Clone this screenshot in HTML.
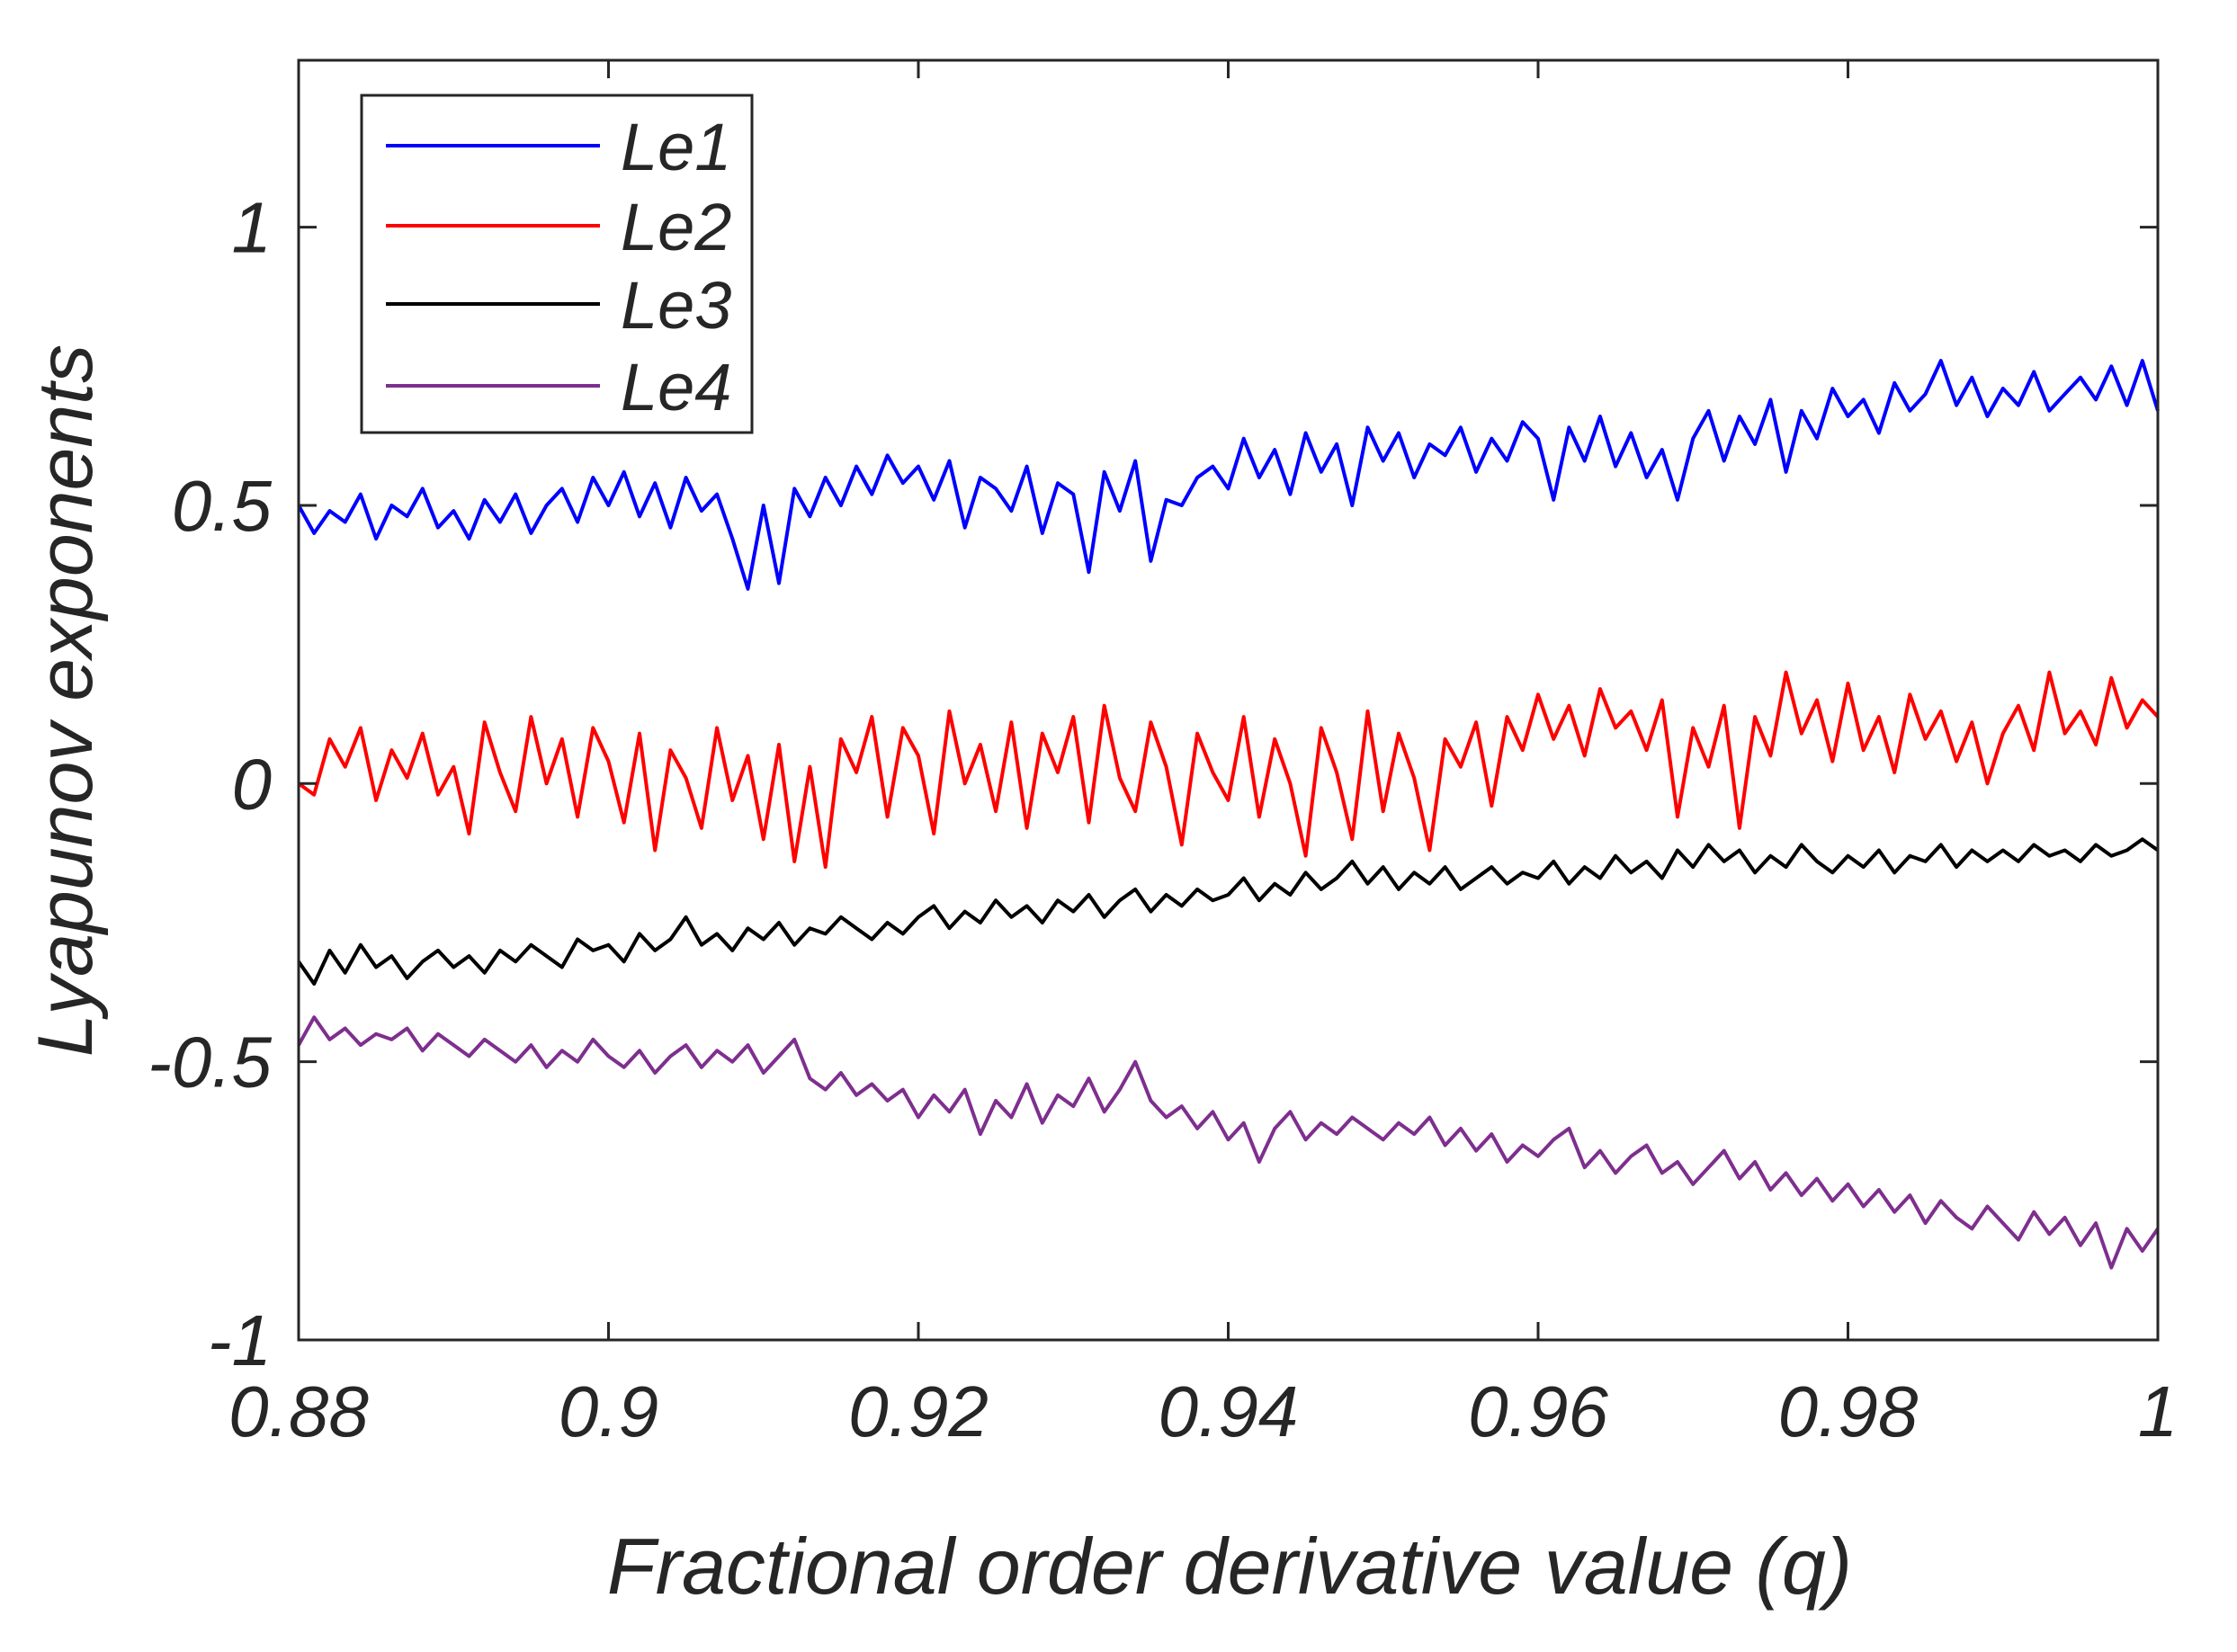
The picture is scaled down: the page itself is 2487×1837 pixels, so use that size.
<!DOCTYPE html>
<html><head><meta charset="utf-8">
<style>
html,body{margin:0;padding:0;background:#fff;}
svg{display:block;}
text{font-family:"Liberation Sans",sans-serif;font-style:italic;fill:#262626;}
</style></head>
<body>
<svg id="chart" width="2487" height="1837" viewBox="0 0 2487 1837" xmlns="http://www.w3.org/2000/svg">
<rect width="2487" height="1837" fill="#fff"/>
<g id="series"></g>
<g id="axes"></g>
<text x="1367" y="1772" font-size="88" text-anchor="middle">Fractional order derivative value (q)</text>
<text transform="translate(102,779) rotate(-90)" font-size="86" text-anchor="middle">Lyapunov exponents</text>
<g>
<rect x="402" y="106" width="434" height="375" fill="#fff" stroke="#262626" stroke-width="3"/>
<line x1="429" y1="162" x2="667" y2="162" stroke="#0000ff" stroke-width="4"/>
<text x="690" y="189" font-size="74" fill="#000">Le1</text>
<line x1="429" y1="251" x2="667" y2="251" stroke="#ff0000" stroke-width="4"/>
<text x="690" y="278" font-size="74" fill="#000">Le2</text>
<line x1="429" y1="338" x2="667" y2="338" stroke="#000" stroke-width="4"/>
<text x="690" y="365" font-size="74" fill="#000">Le3</text>
<line x1="429" y1="429" x2="667" y2="429" stroke="#7e2f8e" stroke-width="4"/>
<text x="690" y="456" font-size="74" fill="#000">Le4</text>
</g>
</svg>
<script>
const xStart = 0.88;
const xStep = 0.001;
const xTicks = [0.88, 0.9, 0.92, 0.94, 0.96, 0.98, 1];
const xTickLabels = ["0.88", "0.9", "0.92", "0.94", "0.96", "0.98", "1"];
const yTicks = [-1, -0.5, 0, 0.5, 1];
const yTickLabels = ["-1", "-0.5", "0", "0.5", "1"];
const le1 = [0.50,0.45,0.49,0.47,0.52,0.44,0.50,0.48,0.53,0.46,
0.49,0.44,0.51,0.47,0.52,0.45,0.50,0.53,0.47,0.55,
0.50,0.56,0.48,0.54,0.46,0.55,0.49,0.52,0.44,0.35,
0.50,0.36,0.53,0.48,0.55,0.50,0.57,0.52,0.59,0.54,
0.57,0.51,0.58,0.46,0.55,0.53,0.49,0.57,0.45,0.54,
0.52,0.38,0.56,0.49,0.58,0.40,0.51,0.50,0.55,0.57,
0.53,0.62,0.55,0.60,0.52,0.63,0.56,0.61,0.50,0.64,
0.58,0.63,0.55,0.61,0.59,0.64,0.56,0.62,0.58,0.65,
0.62,0.51,0.64,0.58,0.66,0.57,0.63,0.55,0.60,0.51,
0.62,0.67,0.58,0.66,0.61,0.69,0.56,0.67,0.62,0.71,
0.66,0.69,0.63,0.72,0.67,0.70,0.76,0.68,0.73,0.66,
0.71,0.68,0.74,0.67,0.70,0.73,0.69,0.75,0.68,0.76,
0.67];
const le2 = [0.00,-0.02,0.08,0.03,0.10,-0.03,0.06,0.01,0.09,-0.02,
0.03,-0.09,0.11,0.02,-0.05,0.12,0.00,0.08,-0.06,0.10,
0.04,-0.07,0.09,-0.12,0.06,0.01,-0.08,0.10,-0.03,0.05,
-0.10,0.07,-0.14,0.03,-0.15,0.08,0.02,0.12,-0.06,0.10,
0.05,-0.09,0.13,0.00,0.07,-0.05,0.11,-0.08,0.09,0.02,
0.12,-0.07,0.14,0.01,-0.05,0.11,0.03,-0.11,0.09,0.02,
-0.03,0.12,-0.06,0.08,0.00,-0.13,0.10,0.02,-0.10,0.13,
-0.05,0.09,0.01,-0.12,0.08,0.03,0.11,-0.04,0.12,0.06,
0.16,0.08,0.14,0.05,0.17,0.10,0.13,0.06,0.15,-0.06,
0.10,0.03,0.14,-0.08,0.12,0.05,0.20,0.09,0.15,0.04,
0.18,0.06,0.12,0.02,0.16,0.08,0.13,0.04,0.11,0.00,
0.09,0.14,0.06,0.20,0.09,0.13,0.07,0.19,0.10,0.15,
0.12];
const le3 = [-0.32,-0.36,-0.30,-0.34,-0.29,-0.33,-0.31,-0.35,-0.32,-0.30,
-0.33,-0.31,-0.34,-0.30,-0.32,-0.29,-0.31,-0.33,-0.28,-0.30,
-0.29,-0.32,-0.27,-0.30,-0.28,-0.24,-0.29,-0.27,-0.30,-0.26,
-0.28,-0.25,-0.29,-0.26,-0.27,-0.24,-0.26,-0.28,-0.25,-0.27,
-0.24,-0.22,-0.26,-0.23,-0.25,-0.21,-0.24,-0.22,-0.25,-0.21,
-0.23,-0.20,-0.24,-0.21,-0.19,-0.23,-0.20,-0.22,-0.19,-0.21,
-0.20,-0.17,-0.21,-0.18,-0.20,-0.16,-0.19,-0.17,-0.14,-0.18,
-0.15,-0.19,-0.16,-0.18,-0.15,-0.19,-0.17,-0.15,-0.18,-0.16,
-0.17,-0.14,-0.18,-0.15,-0.17,-0.13,-0.16,-0.14,-0.17,-0.12,
-0.15,-0.11,-0.14,-0.12,-0.16,-0.13,-0.15,-0.11,-0.14,-0.16,
-0.13,-0.15,-0.12,-0.16,-0.13,-0.14,-0.11,-0.15,-0.12,-0.14,
-0.12,-0.14,-0.11,-0.13,-0.12,-0.14,-0.11,-0.13,-0.12,-0.10,
-0.12];
const le4 = [-0.47,-0.42,-0.46,-0.44,-0.47,-0.45,-0.46,-0.44,-0.48,-0.45,
-0.47,-0.49,-0.46,-0.48,-0.50,-0.47,-0.51,-0.48,-0.50,-0.46,
-0.49,-0.51,-0.48,-0.52,-0.49,-0.47,-0.51,-0.48,-0.50,-0.47,
-0.52,-0.49,-0.46,-0.53,-0.55,-0.52,-0.56,-0.54,-0.57,-0.55,
-0.60,-0.56,-0.59,-0.55,-0.63,-0.57,-0.60,-0.54,-0.61,-0.56,
-0.58,-0.53,-0.59,-0.55,-0.50,-0.57,-0.60,-0.58,-0.62,-0.59,
-0.64,-0.61,-0.68,-0.62,-0.59,-0.64,-0.61,-0.63,-0.60,-0.62,
-0.64,-0.61,-0.63,-0.60,-0.65,-0.62,-0.66,-0.63,-0.68,-0.65,
-0.67,-0.64,-0.62,-0.69,-0.66,-0.70,-0.67,-0.65,-0.70,-0.68,
-0.72,-0.69,-0.66,-0.71,-0.68,-0.73,-0.70,-0.74,-0.71,-0.75,
-0.72,-0.76,-0.73,-0.77,-0.74,-0.79,-0.75,-0.78,-0.80,-0.76,
-0.79,-0.82,-0.77,-0.81,-0.78,-0.83,-0.79,-0.87,-0.80,-0.84,
-0.80];

const NS = "http://www.w3.org/2000/svg";
const L = 332, R = 2399, T = 67, B = 1490;
const xMin = 0.88, xMax = 1.0, yMin = -1, yMax = 1.3;
function xs(v){ return L + (v - xMin) / (xMax - xMin) * (R - L); }
function ys(v){ return B - (v - yMin) / (yMax - yMin) * (B - T); }

const seriesG = document.getElementById('series');
const seriesDefs = [[le1, '#0000ff', 'le1'], [le2, '#ff0000', 'le2'], [le3, '#000000', 'le3'], [le4, '#7e2f8e', 'le4']];
seriesDefs.forEach(function(s){
  const pts = s[0].map(function(v, i){ return xs(xStart + i * xStep).toFixed(1) + ',' + ys(v).toFixed(1); }).join(' ');
  const pl = document.createElementNS(NS, 'polyline');
  pl.setAttribute('points', pts);
  pl.setAttribute('fill', 'none');
  pl.setAttribute('stroke', s[1]);
  pl.setAttribute('stroke-width', '4');
  pl.setAttribute('stroke-linejoin', 'round');
  
  
  seriesG.appendChild(pl);
});

const axesG = document.getElementById('axes');
const frame = document.createElementNS(NS, 'rect');
frame.setAttribute('x', L); frame.setAttribute('y', T);
frame.setAttribute('width', R - L); frame.setAttribute('height', B - T);
frame.setAttribute('fill', 'none'); frame.setAttribute('stroke', '#262626'); frame.setAttribute('stroke-width', '3');


axesG.appendChild(frame);

function addLine(x1, y1, x2, y2, name){
  const l = document.createElementNS(NS, 'line');
  l.setAttribute('x1', x1); l.setAttribute('y1', y1); l.setAttribute('x2', x2); l.setAttribute('y2', y2);
  l.setAttribute('stroke', '#262626'); l.setAttribute('stroke-width', '3');
  
  
  axesG.appendChild(l);
}
function addText(x, y, str, anchor, name){
  const t = document.createElementNS(NS, 'text');
  t.setAttribute('x', x); t.setAttribute('y', y);
  t.setAttribute('font-size', '80'); t.setAttribute('text-anchor', anchor);
  t.textContent = str;
  
  
  axesG.appendChild(t);
}
xTicks.forEach(function(v, i){
  const x = xs(v);
  addLine(x, B, x, B - 20, 'x-tick');
  addLine(x, T, x, T + 20, 'x-tick-top');
  addText(x, 1597, xTickLabels[i], 'middle', 'x-tick-label');
});
yTicks.forEach(function(v, i){
  const y = ys(v);
  addLine(L, y, L + 20, y, 'y-tick');
  addLine(R, y, R - 20, y, 'y-tick-right');
  addText(302, y + 28, yTickLabels[i], 'end', 'y-tick-label');
});
</script>
</body></html>
